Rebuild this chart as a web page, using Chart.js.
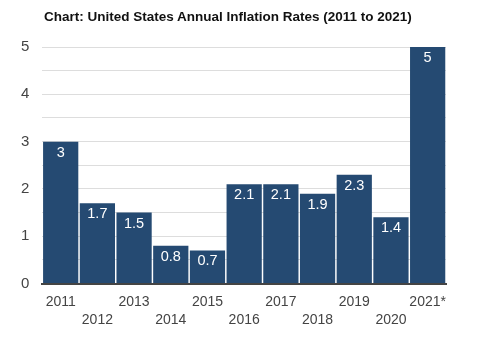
<!DOCTYPE html>
<html>
<head>
<meta charset="utf-8">
<script src="https://cdn.jsdelivr.net/npm/chart.js@4/dist/chart.umd.min.js"></script>
<style>
  html, body { margin: 0; padding: 0; background: #fff; }
  #wrap { position: relative; width: 493px; height: 350px; }
  #title { position: absolute; left: 44px; top: 9px; font-family: "Liberation Sans", Arial, sans-serif; font-weight: bold; font-size: 13.5px; color: #111; }
  canvas { position: absolute; left: 0; top: 0; }
</style>
</head>
<body>
<div id="wrap">
  <canvas id="c" width="493" height="350"></canvas>
  <div id="title">Chart: United States Annual Inflation Rates (2011 to 2021)</div>
</div>
<script>
const categories = ['2011','2012','2013','2014','2015','2016','2017','2018','2019','2020','2021*'];
const inflationRates = [3, 1.7, 1.5, 0.8, 0.7, 2.1, 2.1, 1.9, 2.3, 1.4, 5];
const yTickLabels = [0, 1, 2, 3, 4, 5];

const staggeredLabels = categories.map((c, i) => i % 2 === 0 ? [c, ''] : ['', c]);

const valueLabels = {
  id: 'valueLabels',
  afterDatasetsDraw(chart) {
    const ctx = chart.ctx;
    const meta = chart.getDatasetMeta(0);
    ctx.save();
    ctx.fillStyle = '#ffffff';
    ctx.font = '14.5px "Liberation Sans", Arial, sans-serif';
    ctx.textAlign = 'center';
    ctx.textBaseline = 'middle';
    meta.data.forEach((bar, i) => {
      ctx.fillText(String(inflationRates[i]), bar.x, bar.y + 11);
    });
    ctx.restore();
  }
};

new Chart(document.getElementById('c'), {
  type: 'bar',
  data: {
    labels: staggeredLabels,
    datasets: [{
      data: inflationRates,
      backgroundColor: '#254a72',
      barPercentage: 0.96,
      categoryPercentage: 1
    }]
  },
  options: {
    responsive: false,
    animation: false,
    layout: { padding: { left: 8, right: 47, top: 47, bottom: 12 } },
    plugins: { legend: { display: false }, tooltip: { enabled: false }, title: { display: false } },
    scales: {
      x: {
        grid: { display: false, drawTicks: false },
        border: { display: true, color: '#444', width: 2 },
        ticks: {
          color: '#444',
          font: { family: '"Liberation Sans", Arial, sans-serif', size: 14, lineHeight: 1.3 },
          padding: 9,
          maxRotation: 0,
          autoSkip: false
        }
      },
      y: {
        min: 0,
        max: 5,
        grid: { color: '#dddddd', drawTicks: false },
        border: { display: false },
        ticks: {
          stepSize: 0.5,
          color: '#444',
          padding: 13,
          font: { family: '"Liberation Sans", Arial, sans-serif', size: 15 },
          callback: (v) => yTickLabels.includes(v) ? String(v) : ''
        }
      }
    }
  },
  plugins: [valueLabels]
});
</script>
</body>
</html>
